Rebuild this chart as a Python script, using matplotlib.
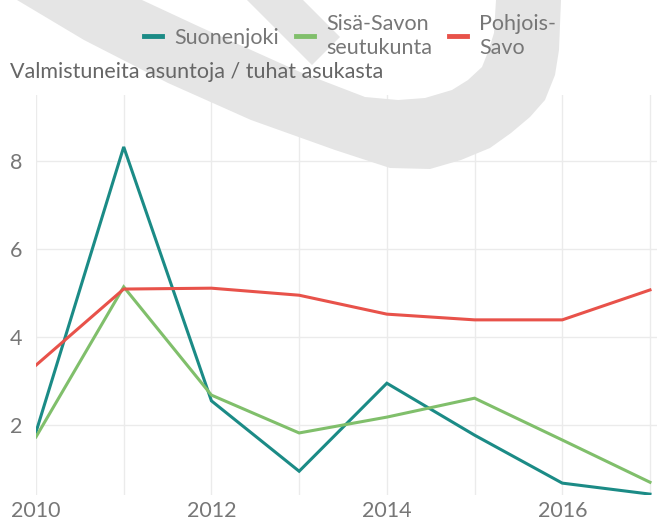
import matplotlib
matplotlib.use("Agg")
import matplotlib.pyplot as plt
from matplotlib.patches import Polygon

years = [2010, 2011, 2012, 2013, 2014, 2015, 2016, 2017]
suonenjoki = [1.84, 8.32, 2.55, 0.95, 2.95, 1.77, 0.68, 0.43]
sisa_savo = [1.73, 5.14, 2.68, 1.82, 2.18, 2.61, 1.66, 0.70]
pohjois_savo = [3.36, 5.09, 5.11, 4.95, 4.52, 4.39, 4.39, 5.07]
series_names = ["Suonenjoki", "Sisä-Savon\nseutukunta", "Pohjois-\nSavo"]
colors = ["#1b8b86", "#80bf6b", "#e8524a"]
y_label = "Valmistuneita asuntoja / tuhat asukasta"
x_ticks = [2010, 2012, 2014, 2016]
y_ticks = [2, 4, 6, 8]

plt.rcParams['font.family'] = ['Lato', 'DejaVu Sans']
W, H = 657, 520
fig = plt.figure(figsize=(W / 100, H / 100), dpi=100)

def px(pts):
    return [(x / W, 1 - y / H) for x, y in pts]

# watermark
hook = [(17, 0), (84, 40), (168, 83), (251, 120), (335, 150), (390, 168), (430, 169),
        (461, 160), (490, 148), (511, 133), (530, 117), (545, 100), (555, 75), (559, 50), (561, 0),
        (496, 0), (494, 33), (488, 52), (482, 67), (468, 80), (452, 90), (425, 98), (398, 100),
        (365, 97), (300, 72), (200, 27), (142, 0)]
wedge = [(247, 0), (312, 65), (340, 37), (303, 0)]
for shp in (hook, wedge):
    fig.patches.append(Polygon(px(shp), closed=True, transform=fig.transFigure,
                               facecolor="#e5e5e5", edgecolor="none", zorder=0))

ax = fig.add_axes([36 / W, 1 - 495 / H, 1 - 36 / W, (495 - 95) / H])
ax.patch.set_alpha(0)
for name, vals, c in zip(series_names, [suonenjoki, sisa_savo, pohjois_savo], colors):
    ax.plot(years, vals, color=c, lw=2.2, label=name, solid_joinstyle='miter', zorder=3)

ax.set_xlim(2010, 2017.08)
ax.set_ylim(0.41, 9.5)
ax.set_xticks(years, minor=False)
ax.set_xticklabels([str(y) if y in x_ticks else "" for y in years])
ax.set_yticks(y_ticks)
ax.grid(True, color="#ebebeb", lw=1.0, zorder=1)
for s in ax.spines.values():
    s.set_visible(False)
ax.tick_params(length=0, labelsize=15.5, colors="#777777")
ax.tick_params(axis='x', pad=4)
ax.tick_params(axis='y', pad=10)

fig.text(10 / W, 1 - 72 / H, y_label, fontsize=15.5, color="#666666", va="center", ha="left")

leg = fig.legend(loc="center", bbox_to_anchor=(350 / W, 1 - 36 / H), ncol=3, frameon=False,
                 fontsize=15.5, handlelength=0.85, handletextpad=0.55, columnspacing=0.8,
                 labelcolor="#777777", labelspacing=0.05)
for l in leg.get_lines():
    l.set_linewidth(3.5)

fig.savefig("out.png", dpi=100)
